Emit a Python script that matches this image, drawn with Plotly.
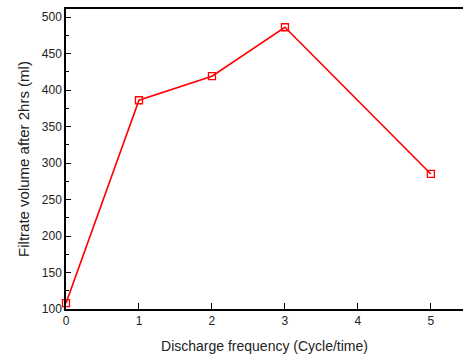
import plotly.graph_objects as go

discharge_freq = [0, 1, 2, 3, 5]
filtrate_volume = [108, 386, 419, 486, 285]

fig = go.Figure()
fig.add_trace(go.Scatter(
    x=discharge_freq, y=filtrate_volume,
    mode="lines+markers",
    line=dict(color="#ff0000", width=1.6),
    marker=dict(symbol="square-open", size=7, color="#ff0000", line=dict(width=1.3)),
    cliponaxis=False,
    showlegend=False,
))

font_family = "Liberation Sans, Arial, sans-serif"
fig.update_layout(
    width=463, height=354,
    margin=dict(l=66, r=0, t=9, b=45),
    paper_bgcolor="white", plot_bgcolor="white",
    font=dict(family=font_family, size=12, color="#222"),
    xaxis=dict(
        range=[0, 5.44], tickmode="array", tickvals=[0, 1, 2, 3, 4, 5],
        ticks="inside", ticklen=6, tickwidth=1.2, tickcolor="black",
        showline=True, linecolor="black", linewidth=1.5, mirror=True,
        showgrid=False, zeroline=False,
        tickfont=dict(size=12, color="#222"),
        title=dict(text="Discharge frequency (Cycle/time)", font=dict(size=14, color="#222"), standoff=14),
    ),
    yaxis=dict(
        range=[100, 511], tickmode="array", tickvals=[100, 150, 200, 250, 300, 350, 400, 450, 500],
        ticks="inside", ticklen=5, tickwidth=1.2, tickcolor="black",
        minor=dict(ticks="inside", ticklen=3, tickwidth=1, tickcolor="black", dtick=25, tick0=100),
        showline=True, linecolor="black", linewidth=1.5,
        showgrid=False, zeroline=False,
        tickfont=dict(size=12, color="#222"),
        title=dict(text="Filtrate volume after 2hrs (ml)", font=dict(size=15, color="#222"), standoff=9),
    ),
)
fig.write_html("out.html", config={"displayModeBar": False},
               post_script="document.body.style.margin='0';document.body.style.overflow='hidden';")
